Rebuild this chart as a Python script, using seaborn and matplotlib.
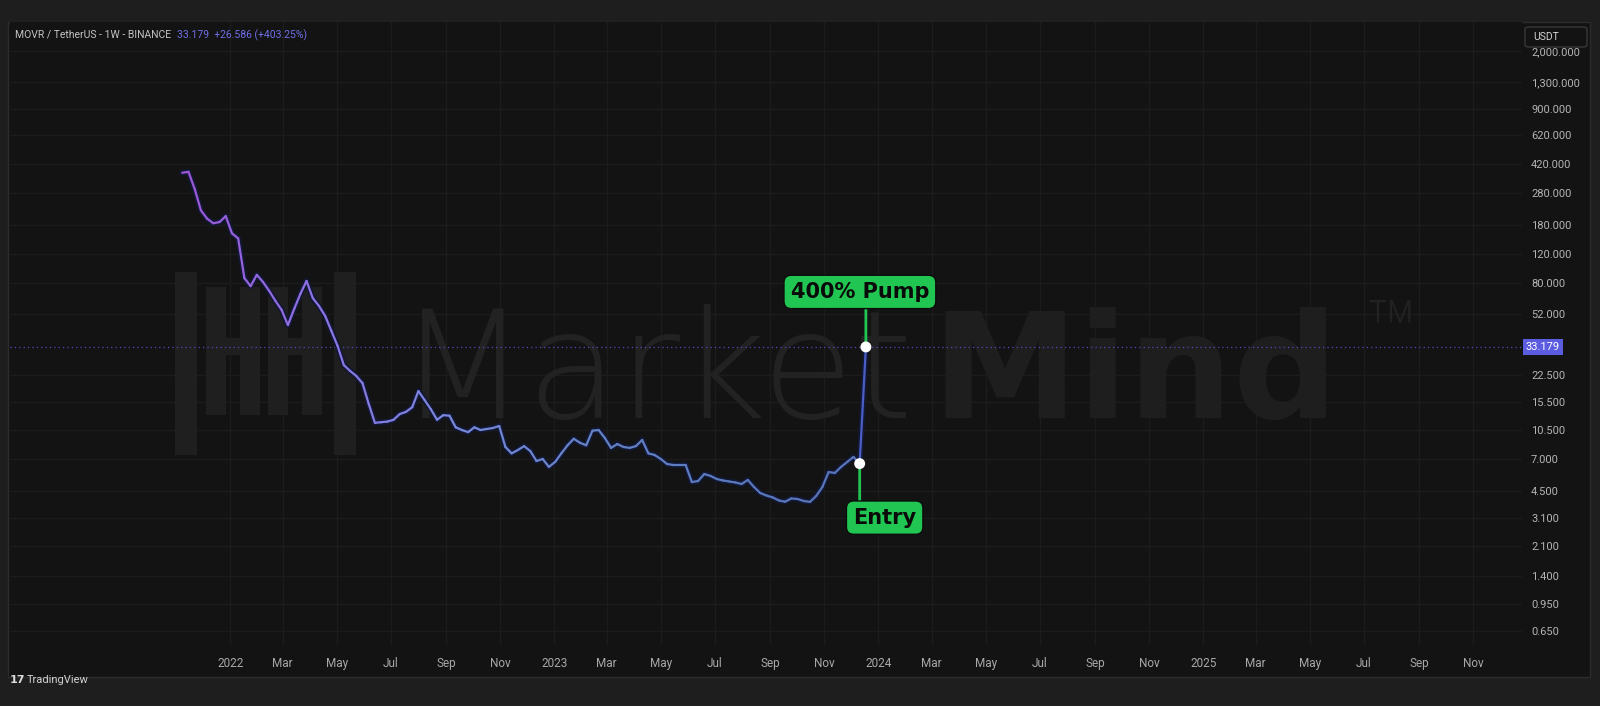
import numpy as np
import pandas as pd
import matplotlib
matplotlib.use("Agg")
import matplotlib.pyplot as plt
import matplotlib.dates as mdates
import matplotlib.transforms as mtransforms
from matplotlib.collections import LineCollection
from matplotlib.colors import LinearSegmentedColormap, to_rgba
from matplotlib.patches import Rectangle, FancyBboxPatch
from matplotlib.ticker import NullLocator
import seaborn as sns

# ---------------- data ----------------
week_start = "2021-11-08"
close = [370, 375, 296, 220, 196, 184, 187, 203, 160, 149,
         86, 77, 90, 81.5, 72, 62.7, 55.3, 44.9, 56, 69,
         82.7, 65.3, 58.5, 50.9, 41.4, 33.6, 25.8, 23.8, 22.2, 20.1,
         15.1, 11.6, 11.7, 11.8, 12.1, 13.1, 13.5, 14.4, 18.0, 15.9,
         14.0, 12.1, 12.9, 12.8, 10.9, 10.5, 10.2, 10.9, 10.5, 10.65,
         10.8, 11.1, 8.3, 7.6, 7.96, 8.4, 7.85, 6.84, 7.03, 6.3,
         6.75, 7.6, 8.5, 9.3, 8.8, 8.5, 10.4, 10.5, 9.4, 8.2,
         8.65, 8.3, 8.2, 8.4, 9.15, 7.6, 7.43, 7.03, 6.56, 6.47,
         6.47, 6.47, 5.11, 5.18, 5.71, 5.56, 5.33, 5.22, 5.15, 5.08,
         4.97, 5.26, 4.77, 4.39, 4.24, 4.13, 3.96, 3.89, 4.07, 4.04,
         3.93, 3.88, 4.21, 4.77, 5.87, 5.79, 6.3, 6.75, 7.23, 6.593,
         33.179]

x_tick_dates = ["2022-01-01", "2022-03-01", "2022-05-01", "2022-07-01", "2022-09-01", "2022-11-01",
                "2023-01-01", "2023-03-01", "2023-05-01", "2023-07-01", "2023-09-01", "2023-11-01",
                "2024-01-01", "2024-03-01", "2024-05-01", "2024-07-01", "2024-09-01", "2024-11-01",
                "2025-01-01", "2025-03-01", "2025-05-01", "2025-07-01", "2025-09-01", "2025-11-01"]
x_tick_labels = ["2022", "Mar", "May", "Jul", "Sep", "Nov",
                 "2023", "Mar", "May", "Jul", "Sep", "Nov",
                 "2024", "Mar", "May", "Jul", "Sep", "Nov",
                 "2025", "Mar", "May", "Jul", "Sep", "Nov"]
y_tick_values = [2000, 1300, 900, 620, 420, 280, 180, 120, 80, 52,
                 22.5, 15.5, 10.5, 7, 4.5, 3.1, 2.1, 1.4, 0.95, 0.65]
y_tick_labels = ["2,000.000", "1,300.000", "900.000", "620.000", "420.000", "280.000",
                 "180.000", "120.000", "80.000", "52.000", "22.500", "15.500", "10.500",
                 "7.000", "4.500", "3.100", "2.100", "1.400", "0.950", "0.650"]
last_price_label = "33.179"
symbol_text = "MOVR / TetherUS - 1W - BINANCE"
change_text = "33.179  +26.586 (+403.25%)"
pump_label = "400% Pump"
entry_label = "Entry"
currency_label = "USDT"

# ---------------- style ----------------
sns.set_theme(style="dark")
plt.rcParams["font.family"] = ["Roboto", "DejaVu Sans"]

df = pd.DataFrame({"date": pd.date_range(week_start, periods=len(close), freq="7D"),
                   "close": close})

W, H = 1600, 706
fig = plt.figure(figsize=(16, 7.06), dpi=100, facecolor="#1e1e1e")


def fx(px):
    return px / W


def fy(py):
    return 1 - py / H


# chart panel
fig.patches.append(Rectangle((fx(8), fy(677)), fx(1590 - 8), (677 - 22) / H,
                             transform=fig.transFigure, fc="#131313", ec="#2c2c2c",
                             lw=1, zorder=-5))

AX_L, AX_R, AX_T, AX_B = 10, 1522, 22, 645
ax = fig.add_axes([fx(AX_L), fy(AX_B), fx(AX_R - AX_L), (AX_B - AX_T) / H])
ax.set_facecolor("#131313")
ax.set_yscale("log")

# watermark logo
logo_rects = [(175, 272, 197, 455), (206, 287, 226, 415), (240, 287, 260, 415),
              (206, 338, 260, 355), (268, 287, 288, 415), (302, 287, 322, 415),
              (268, 338, 322, 355), (334, 272, 356, 455)]
for x0, y0, x1, y1 in logo_rects:
    ax.add_patch(Rectangle((fx(x0), fy(y1)), fx(x1 - x0), (y1 - y0) / H,
                           transform=fig.transFigure, fc="#1f1f1f", ec="none", zorder=1))

ax.text(fx(398), fy(418), "Market", transform=fig.transFigure,
        fontsize=108, fontweight=200, family=["DejaVu Sans"], color="#222222",
        ha="left", va="baseline", zorder=1)
ax.text(fx(1339), fy(418), "Mind", transform=fig.transFigure,
        fontsize=106, fontweight="bold", family=["DejaVu Sans"], color="#1e1e1e",
        ha="right", va="baseline", zorder=1)
ax.text(fx(1364), fy(296), "™", transform=fig.transFigure,
        fontsize=62, fontweight="light", family=["Roboto", "DejaVu Sans"], color="#222222",
        ha="left", va="top", zorder=1)

# line halo via seaborn
sns.lineplot(data=df, x="date", y="close", ax=ax, color="#121833", lw=4.2, zorder=3)

# gradient line
xn = mdates.date2num(df["date"])
pts = np.column_stack([xn, df["close"].values])
segs = np.stack([pts[:-1], pts[1:]], axis=1)
cmap = LinearSegmentedColormap.from_list(
    "g", ["#9a56d6", "#8c74e6", "#7888dc", "#6482c6", "#5a78bc", "#5874b8"])
cols = cmap(np.linspace(0, 1, len(segs)))
cols[-1] = to_rgba("#4a5ec6")
lc = LineCollection(segs, colors=cols, linewidths=1.6, zorder=4,
                    capstyle="round", joinstyle="round")
ax.add_collection(lc)

# last price dotted line
ax.axhline(close[-1], color="#4e4ec0", lw=0.9, ls=(0, (1, 2.5)), zorder=2)

# connector lines & labels
green = "#20c651"
pump_date, pump_val = df["date"].iloc[-1], close[-1]
entry_date, entry_val = df["date"].iloc[-2], close[-2]
ax.annotate("", xy=(pump_date, pump_val), xytext=(0, 42), textcoords="offset pixels",
            arrowprops=dict(arrowstyle="-", color=green, lw=2, shrinkA=0, shrinkB=0), zorder=5)
ax.annotate("", xy=(entry_date, entry_val), xytext=(0, -42), textcoords="offset pixels",
            arrowprops=dict(arrowstyle="-", color=green, lw=2, shrinkA=0, shrinkB=0), zorder=5)
ax.annotate(pump_label, xy=(pump_date, pump_val), xytext=(-6, 55), textcoords="offset pixels",
            ha="center", va="center", fontsize=15, fontweight="bold",
            family=["DejaVu Sans"], color="#0a0a0a",
            bbox=dict(boxstyle="round,pad=0.32,rounding_size=0.35", fc=green, ec="#0c0c0c", lw=1),
            zorder=6)
ax.annotate(entry_label, xy=(entry_date, entry_val), xytext=(25, -54), textcoords="offset pixels",
            ha="center", va="center", fontsize=15, fontweight="bold",
            family=["DejaVu Sans"], color="#0a0a0a",
            bbox=dict(boxstyle="round,pad=0.32,rounding_size=0.35", fc=green, ec="#0c0c0c", lw=1),
            zorder=6)

sns.scatterplot(x=[entry_date, pump_date], y=[entry_val, pump_val], ax=ax, s=62,
                color="white", edgecolor="none", zorder=7, legend=False)

# axes / ticks
ax.set_xlim(pd.Timestamp("2021-04-28"), pd.Timestamp("2025-12-26"))
ax.set_ylim(0.535, 2985)
ax.set_xticks(pd.to_datetime(x_tick_dates))
ax.set_xticklabels(x_tick_labels)
ax.yaxis.tick_right()
ax.set_yticks(y_tick_values)
ax.set_yticklabels(y_tick_labels)
ax.yaxis.set_minor_locator(NullLocator())
ax.xaxis.set_minor_locator(NullLocator())
ax.tick_params(axis="y", length=0, pad=6.5, labelsize=8, labelcolor="#b4b4b4")
ax.tick_params(axis="x", length=0, pad=8.5, labelsize=8.5, labelcolor="#a8a8a8")
ax.grid(True, color="#1c1c1c", lw=0.9)
for s in ax.spines.values():
    s.set_visible(False)
ax.set_xlabel("")
ax.set_ylabel("")

# last price tag
blend = mtransforms.blended_transform_factory(ax.transAxes, ax.transData)
ax.text(1.0 + 4 / (AX_R - AX_L), close[-1], last_price_label, transform=blend,
        ha="left", va="center", fontsize=8, color="white", clip_on=False, zorder=8,
        bbox=dict(boxstyle="square,pad=0.25", fc="#5c5ce0", ec="none"))

# header texts
fig.text(fx(15), fy(35), symbol_text, fontsize=7.5, color="#c4c4c4", ha="left", va="center")
fig.text(fx(177), fy(35), change_text, fontsize=7.5, color="#6f6fe8", ha="left", va="center")

# currency box
fig.patches.append(FancyBboxPatch((fx(1525), fy(47)), fx(62), 20 / H,
                                  boxstyle="round,pad=0,rounding_size=0.003",
                                  transform=fig.transFigure, fc="#131313", ec="#3c3c3c",
                                  lw=0.9, zorder=5))
fig.text(fx(1546), fy(37), currency_label, fontsize=7.5, color="#d4d4d4",
         ha="center", va="center", zorder=6)

# footer
fig.text(fx(10), fy(680), "17", fontsize=8, fontweight="bold", color="#dcdcdc",
         ha="left", va="center", family=["DejaVu Sans"])
fig.text(fx(27), fy(680), "TradingView", fontsize=8, color="#d0d0d0", ha="left", va="center")

fig.savefig("out.png", dpi=100, facecolor=fig.get_facecolor())
